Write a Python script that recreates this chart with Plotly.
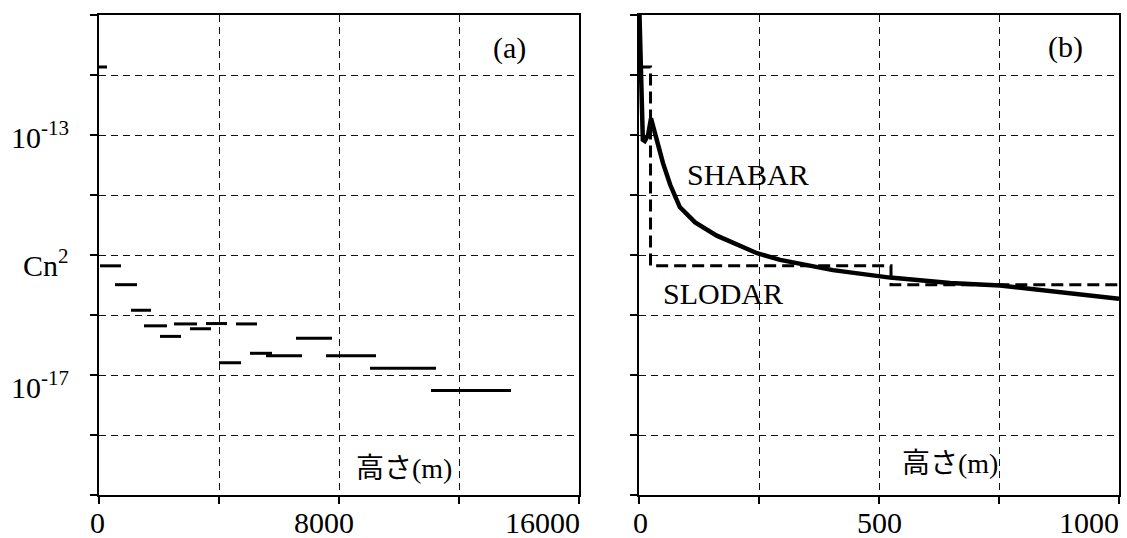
import plotly.graph_objects as go

# ---- Panel (a): SLODAR layers over full height range ----
layer_start = [0, 33, 533, 1067, 1500, 2033, 2500, 3033, 3567, 4000, 4567, 5033, 5567, 6567, 7567, 9033, 11067]
layer_end = [267, 733, 1267, 1733, 2267, 2733, 3267, 3733, 4267, 4733, 5267, 5767, 6767, 7767, 9233, 11233, 13733]
layer_cn2 = [1.36e-12, 6.6e-16, 3.2e-16, 1.2e-16, 6.6e-17, 4.4e-17, 7.1e-17, 5.9e-17, 7.2e-17,
             1.6e-17, 7.1e-17, 2.3e-17, 2.1e-17, 4.1e-17, 2.1e-17, 1.3e-17, 5.5e-18]

# ---- Panel (b): SHABAR profile and SLODAR steps, 0-1000 m ----
shabar_h = [1, 2, 4, 6, 8, 12, 19, 25, 31, 37, 50, 65, 85, 117, 162, 246, 294, 404, 523, 648, 752, 877, 1000]
shabar_cn2 = [1.0e-11, 5.0e-12, 1.78e-12, 1.07e-13, 8.3e-14, 7.9e-14, 1.0e-13, 1.9e-13, 1.32e-13, 8.3e-14,
              3.4e-14, 1.48e-14, 6.3e-15, 3.5e-15, 2.1e-15, 1.07e-15, 8.3e-16, 5.6e-16, 4.2e-16, 3.4e-16,
              3.1e-16, 2.4e-16, 1.86e-16]
slodar_h = [0, 24, 525, 1000]
slodar_cn2 = [1.36e-12, 6.6e-16, 3.2e-16, 3.2e-16]

# ticks
y_tickvals = [1e-19, 1e-18, 1e-17, 1e-16, 1e-15, 1e-14, 1e-13, 1e-12, 1e-11]
y_label_exp = [-13, -15, -17]
y_label_text = ["10<sup>-13</sup>", "Cn<sup>2</sup>", "10<sup>-17</sup>"]
xa_tickvals = [0, 4000, 8000, 12000, 16000]
xa_label_vals = [0, 8000, 16000]
xa_label_text = ["0", "8000", "16000"]
xb_tickvals = [0, 250, 500, 750, 1000]
xb_label_vals = [0, 500, 1000]
xb_label_text = ["0", "500", "1000"]

SERIF = "Liberation Serif, Times New Roman, serif"
JP = "Liberation Serif, Noto Sans CJK JP, serif"

fig = go.Figure()

# segments for panel (a)
sx, sy = [], []
for s, e, v in zip(layer_start, layer_end, layer_cn2):
    sx += [s, e, None]
    sy += [v, v, None]
fig.add_trace(go.Scatter(x=sx, y=sy, mode="lines", line=dict(color="black", width=3),
                         xaxis="x", yaxis="y", showlegend=False, connectgaps=False))

fig.add_trace(go.Scatter(x=slodar_h, y=slodar_cn2, mode="lines",
                         line=dict(color="black", width=3, dash="12px,6px", shape="hv"),
                         xaxis="x2", yaxis="y2", showlegend=False))
fig.add_trace(go.Scatter(x=shabar_h, y=shabar_cn2, mode="lines",
                         line=dict(color="black", width=4.5),
                         xaxis="x2", yaxis="y2", showlegend=False))

grid = dict(showgrid=True, gridcolor="#111", gridwidth=1.3, griddash="7px,5px",
            showline=True, linecolor="black", linewidth=1.5, mirror=True,
            ticks="outside", ticklen=7, tickwidth=1.5, tickcolor="black",
            zeroline=False, showticklabels=False)

fig.update_layout(
    width=1127, height=538,
    margin=dict(l=99, r=8, t=15, b=43, autoexpand=False),
    paper_bgcolor="white", plot_bgcolor="white",
    xaxis=dict(domain=[0, 480 / 1020], range=[0, 16000], tickvals=xa_tickvals, anchor="y", **grid),
    yaxis=dict(domain=[0, 1], type="log", range=[-19, -11], tickvals=y_tickvals, anchor="x", **grid),
    xaxis2=dict(domain=[540 / 1020, 1], range=[0, 1000], tickvals=xb_tickvals, anchor="y2", **grid),
    yaxis2=dict(domain=[0, 1], type="log", range=[-19, -11], tickvals=y_tickvals, anchor="x2", **grid),
)

tick_font = dict(family=SERIF, size=30, color="black")

# y tick labels (panel a)
for e, t, dy in zip(y_label_exp, y_label_text, [0, -8, -10]):
    fig.add_annotation(x=0, y=e, xref="x domain", yref="y", text=t, showarrow=False,
                       xanchor="right", yanchor="middle", xshift=-28, yshift=dy, font=tick_font)

# x tick labels (panel a)
for v, t, xa, dx in zip(xa_label_vals, xa_label_text, ["center", "center", "right"], [-2, -15, 3]):
    fig.add_annotation(x=v, y=0, xref="x", yref="y domain", text=t, showarrow=False,
                       xanchor=xa, yanchor="middle", xshift=dx, yshift=-27, font=tick_font)
# x tick labels (panel b)
for v, t, xa, dx in zip(xb_label_vals, xb_label_text, ["center", "center", "right"], [1, 0, 2]):
    fig.add_annotation(x=v, y=0, xref="x2", yref="y2 domain", text=t, showarrow=False,
                       xanchor=xa, yanchor="middle", xshift=dx, yshift=-27, font=tick_font)

ann_font = dict(family=SERIF, size=30, color="black")
labels = [
    ("x domain", "y domain", 0.856, 0.931, "(a)", ann_font),
    ("x2 domain", "y2 domain", 0.889, 0.933, "(b)", ann_font),
    ("x2 domain", "y2 domain", 0.227, 0.667, "SHABAR", ann_font),
    ("x2 domain", "y2 domain", 0.175, 0.419, "SLODAR", ann_font),
    ("x domain", "y domain", 0.635, 0.056, "高さ(m)", dict(family=JP, size=28, color="black")),
    ("x2 domain", "y2 domain", 0.648, 0.065, "高さ(m)", dict(family=JP, size=28, color="black")),
]
for xr, yr, x, y, t, f in labels:
    fig.add_annotation(x=x, y=y, xref=xr, yref=yr, text=t, showarrow=False,
                       xanchor="center", yanchor="middle", font=f)

fig.write_html("out.html", config={"displayModeBar": False},
               post_script="document.body.style.margin='0';document.body.style.overflow='hidden';")
